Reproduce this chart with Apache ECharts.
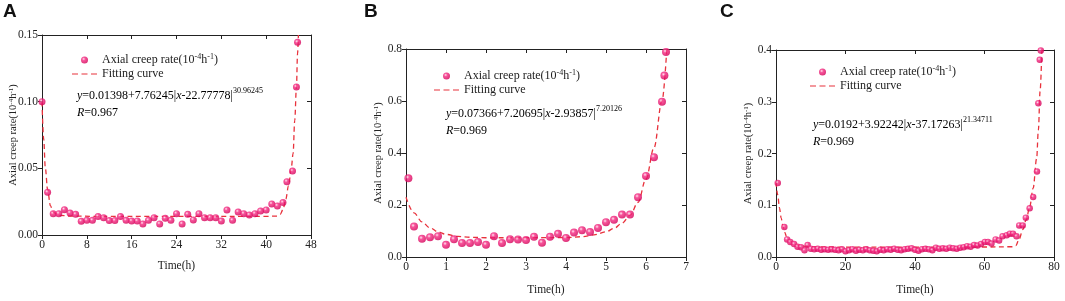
<!DOCTYPE html>
<html>
<head>
<meta charset="utf-8">
<script src="https://cdn.jsdelivr.net/npm/echarts@6/dist/echarts.min.js"></script>
<style>
html, body { margin: 0; padding: 0; background: #fff; }
#chart { width: 1065px; height: 301px; }
</style>
</head>
<body>
<div id="chart"></div>
<script>
// panel A : measured creep rate and fitting curve
var timeA = [0, 1, 2, 3, 4, 5, 6, 7, 8, 9, 10, 11, 12, 13, 14, 15, 16, 17, 18, 19, 20, 21, 22,
  23, 24, 25, 26, 27, 28, 29, 30, 31, 32, 33, 34, 35, 36, 37, 38, 39, 40, 41, 42, 43, 43.7, 44.7, 45.4, 45.6];
var rateA = [0.100, 0.032, 0.016, 0.016, 0.019, 0.0165, 0.0155, 0.0103, 0.011, 0.011, 0.0138, 0.013,
  0.0108, 0.0108, 0.0138, 0.011, 0.0105, 0.0105, 0.0083, 0.011, 0.013, 0.0083, 0.0125, 0.011, 0.016,
  0.0083, 0.0155, 0.0113, 0.016, 0.013, 0.013, 0.013, 0.0105, 0.0188, 0.011, 0.0173, 0.016, 0.015,
  0.016, 0.018, 0.0188, 0.0233, 0.0218, 0.0243, 0.040, 0.048, 0.111, 0.1445];
var fitTimeA = [0, 0.3, 0.6, 1, 1.5, 2, 3, 5, 10, 20, 30, 40, 42, 42.5, 43, 43.5, 44, 44.5, 44.8, 45.1, 45.4, 45.6, 45.75];
var fitRateA = [0.100, 0.072, 0.050, 0.034, 0.022, 0.017, 0.0148, 0.0142, 0.014, 0.014, 0.014, 0.014,
  0.0142, 0.0155, 0.019, 0.027, 0.037, 0.051, 0.061, 0.086, 0.111, 0.136, 0.15];

// panel B
var timeB = [0.06, 0.2, 0.4, 0.6, 0.8, 1.0, 1.2, 1.4, 1.6, 1.8, 2.0, 2.2, 2.4, 2.6, 2.8, 3.0, 3.2, 3.4,
  3.6, 3.8, 4.0, 4.2, 4.4, 4.6, 4.8, 5.0, 5.2, 5.4, 5.6, 5.8, 6.0, 6.2, 6.4, 6.46, 6.5];
var rateB = [0.303, 0.117, 0.070, 0.076, 0.080, 0.047, 0.068, 0.054, 0.054, 0.058, 0.047, 0.080, 0.054,
  0.068, 0.067, 0.065, 0.078, 0.055, 0.078, 0.089, 0.073, 0.094, 0.103, 0.096, 0.112, 0.134, 0.143,
  0.163, 0.163, 0.230, 0.312, 0.384, 0.597, 0.698, 0.788];
var fitTimeB = [0, 0.2, 0.4, 0.6, 0.8, 1.0, 1.3, 1.6, 2, 3, 4, 4.4, 4.7, 5.0, 5.2, 5.4, 5.6, 5.8, 6.0, 6.2, 6.4, 6.52];
var fitRateB = [0.23, 0.17, 0.135, 0.112, 0.097, 0.087, 0.079, 0.076, 0.074, 0.074, 0.075, 0.078, 0.085,
  0.097, 0.11, 0.13, 0.16, 0.21, 0.30, 0.42, 0.6, 0.8];

// panel C
var timeC = [0.5, 2.4, 3.2, 4.1, 5.2, 6.2, 7.2, 8.2, 9.1, 10, 11, 12, 13, 14, 15, 16, 17, 18, 19, 20,
  21, 22, 23, 24, 25, 26, 27, 28, 29, 30, 31, 32, 33, 34, 35, 36, 37, 38, 39, 40, 41, 42, 43, 44, 45,
  46, 47, 48, 49, 50, 51, 52, 53, 54, 55, 56, 57, 58, 59, 60.1, 61, 62, 63.2, 64.2, 65.2, 66.4, 67.3,
  68.2, 69.2, 70, 71, 71.9, 73, 74, 75.1, 75.5, 75.9, 76.2];
var rateC = [0.143, 0.058, 0.034, 0.029, 0.025, 0.020, 0.019, 0.013, 0.023, 0.016, 0.015, 0.016, 0.014,
  0.015, 0.014, 0.015, 0.014, 0.013, 0.015, 0.011, 0.013, 0.015, 0.012, 0.014, 0.013, 0.015, 0.013,
  0.012, 0.011, 0.014, 0.013, 0.015, 0.014, 0.016, 0.014, 0.013, 0.015, 0.016, 0.017, 0.014, 0.012,
  0.015, 0.016, 0.015, 0.013, 0.018, 0.016, 0.017, 0.016, 0.018, 0.017, 0.016, 0.018, 0.019, 0.021,
  0.020, 0.023, 0.022, 0.025, 0.029, 0.029, 0.026, 0.034, 0.032, 0.040, 0.042, 0.045, 0.045, 0.040,
  0.061, 0.061, 0.076, 0.094, 0.116, 0.165, 0.297, 0.381, 0.399];
var fitTimeC = [0, 0.5, 1, 1.5, 2, 2.5, 3, 4, 5, 6, 8, 10, 20, 40, 60, 68, 69, 70, 71, 72, 73, 74, 75, 75.5, 76, 76.5];
var fitRateC = [0.145, 0.12, 0.095, 0.075, 0.06, 0.048, 0.04, 0.031, 0.026, 0.023, 0.021, 0.0195, 0.0192,
  0.0192, 0.0193, 0.0198, 0.022, 0.035, 0.053, 0.072, 0.097, 0.133, 0.19, 0.245, 0.32, 0.40];

var serif = 'Liberation Serif';
var ink = '#222';
var red = '#e8323c';

function pairs(xs, ys) {
  var out = [];
  for (var i = 0; i < xs.length; i++) out.push([xs[i], ys[i]]);
  return out;
}

var dot = {
  type: 'radial', x: 0.38, y: 0.35, r: 0.65,
  colorStops: [
    {offset: 0, color: '#ffe0ec'},
    {offset: 0.35, color: '#f52a82'},
    {offset: 1, color: '#d40058'}
  ]
};

var grids = [
  {left: 42, top: 35, width: 269, height: 200},
  {left: 406, top: 49, width: 280, height: 209},
  {left: 776, top: 50, width: 278, height: 207}
];

var yName = '{t|Axial creep rate(10}{s|-4}{t|h}{s|-1}{t|)}';
var yNameRich = {
  t: {fontFamily: serif, fontSize: 10.5, color: ink},
  s: {fontFamily: serif, fontSize: 7, color: ink, verticalAlign: 'top'}
};

var xAxes = [], yAxes = [];
function addAxes(gi, xmax, xint, ymax, yint, dec, xGap, yGap) {
  var line = {show: true, onZero: false, lineStyle: {color: ink, width: 1}};
  xAxes.push({
    type: 'value', gridIndex: gi, min: 0, max: xmax, interval: xint, position: 'bottom',
    axisLine: line, axisTick: {show: true, length: 4, lineStyle: {color: ink}},
    axisLabel: {fontFamily: serif, fontSize: 11.5, color: ink, margin: 4},
    splitLine: {show: false},
    name: 'Time(h)', nameLocation: 'middle', nameGap: xGap, nameMoveOverlap: false,
    nameTextStyle: {fontFamily: serif, fontSize: 11.5, color: ink}
  });
  xAxes.push({
    type: 'value', gridIndex: gi, min: 0, max: xmax, interval: xint, position: 'top',
    axisLine: line, axisTick: {show: true, inside: true, length: 4, lineStyle: {color: ink}},
    axisLabel: {show: false}, splitLine: {show: false}
  });
  yAxes.push({
    type: 'value', gridIndex: gi, min: 0, max: ymax, interval: yint, position: 'left',
    axisLine: line, axisTick: {show: true, length: 4, lineStyle: {color: ink}},
    axisLabel: {fontFamily: serif, fontSize: 11.5, color: ink, margin: 4,
      formatter: function (v) { return v.toFixed(dec); }},
    splitLine: {show: false},
    name: yName, nameLocation: 'middle', nameGap: yGap, nameMoveOverlap: false,
    nameTextStyle: {rich: yNameRich}
  });
  yAxes.push({
    type: 'value', gridIndex: gi, min: 0, max: ymax, interval: yint, position: 'right',
    axisLine: line, axisTick: {show: true, inside: true, length: 4, lineStyle: {color: ink}},
    axisLabel: {show: false}, splitLine: {show: false}
  });
}
addAxes(0, 48, 8, 0.15, 0.05, 2, 25, 23);
addAxes(1, 7, 1, 0.8, 0.2, 1, 27, 22);
addAxes(2, 80, 20, 0.4, 0.1, 1, 27, 22);

var panels = [
  [timeA, rateA, fitTimeA, fitRateA, 7],
  [timeB, rateB, fitTimeB, fitRateB, 8],
  [timeC, rateC, fitTimeC, fitRateC, 6.5]
];
var series = [];
panels.forEach(function (p, gi) {
  series.push({
    name: 'Fitting curve', type: 'line', xAxisIndex: gi * 2, yAxisIndex: gi * 2,
    data: pairs(p[2], p[3]), showSymbol: false, symbol: 'none', smooth: 0.35, smoothMonotone: 'x',
    lineStyle: {color: red, width: 1.3, type: [5, 3.5]}, itemStyle: {color: red},
    clip: true, z: 2, animation: false
  });
  series.push({
    name: 'Axial creep rate', type: 'scatter', xAxisIndex: gi * 2, yAxisIndex: gi * 2,
    data: pairs(p[0], p[1]), symbolSize: p[4], itemStyle: {color: dot},
    clip: false, z: 3, animation: false
  });
});

var legendText = {
  fontFamily: serif, fontSize: 12, color: ink,
  rich: {
    t: {fontFamily: serif, fontSize: 12, color: ink, lineHeight: 14},
    s: {fontFamily: serif, fontSize: 8, color: ink, verticalAlign: 'top', lineHeight: 14}
  }
};
// three short dashes, drawn as the legend mark of the fitting curve
var dashIcon = 'path://M0,0H6V1.2H0Z M9.5,0H15.5V1.2H9.5Z M19,0H25V1.2H19Z';
function legendAt(left, top) {
  return {
    left: left, top: top, orient: 'vertical', itemWidth: 25, itemHeight: 7, itemGap: 2,
    padding: 0, itemTextGap: 4,
    data: [{name: 'Axial creep rate', icon: 'circle'}, {name: 'Fitting curve', icon: dashIcon}],
    textStyle: legendText, selectedMode: false,
    formatter: function (n) {
      return n === 'Axial creep rate' ? '{t|Axial creep rate(10}{s|-4}{t|h}{s|-1}{t|)}' : '{t|' + n + '}';
    }
  };
}

var eqRich = {
  n: {fontFamily: serif, fontSize: 12, color: ink, lineHeight: 17},
  i: {fontFamily: serif, fontSize: 12, fontStyle: 'italic', color: ink, lineHeight: 17},
  s: {fontFamily: serif, fontSize: 8, color: ink, verticalAlign: 'top', lineHeight: 17}
};
function equation(left, top, lines) {
  return {type: 'text', left: left, top: top, z: 10, style: {text: lines, rich: eqRich}};
}
function letter(left, txt) {
  return {type: 'text', left: left, top: 2, z: 10,
    style: {text: txt, font: 'bold 19px "Liberation Sans"', fill: '#111'}};
}

var chart = echarts.init(document.getElementById('chart'));
chart.setOption({
  backgroundColor: '#fff',
  animation: false,
  grid: grids,
  xAxis: xAxes,
  yAxis: yAxes,
  legend: [legendAt(72, 53), legendAt(434, 69), legendAt(810, 65)],
  series: series,
  graphic: [
    letter(3, 'A'), letter(364, 'B'), letter(720, 'C'),
    equation(77, 87, '{i|y}{n|=0.01398+7.76245|}{i|x}{n|-22.77778|}{s|30.96245}\n{i|R}{n|=0.967}'),
    equation(446, 105, '{i|y}{n|=0.07366+7.20695|}{i|x}{n|-2.93857|}{s|7.20126}\n{i|R}{n|=0.969}'),
    equation(813, 116, '{i|y}{n|=0.0192+3.92242|}{i|x}{n|-37.17263|}{s|21.34711}\n{i|R}{n|=0.969}')
  ]
});
</script>
</body>
</html>
